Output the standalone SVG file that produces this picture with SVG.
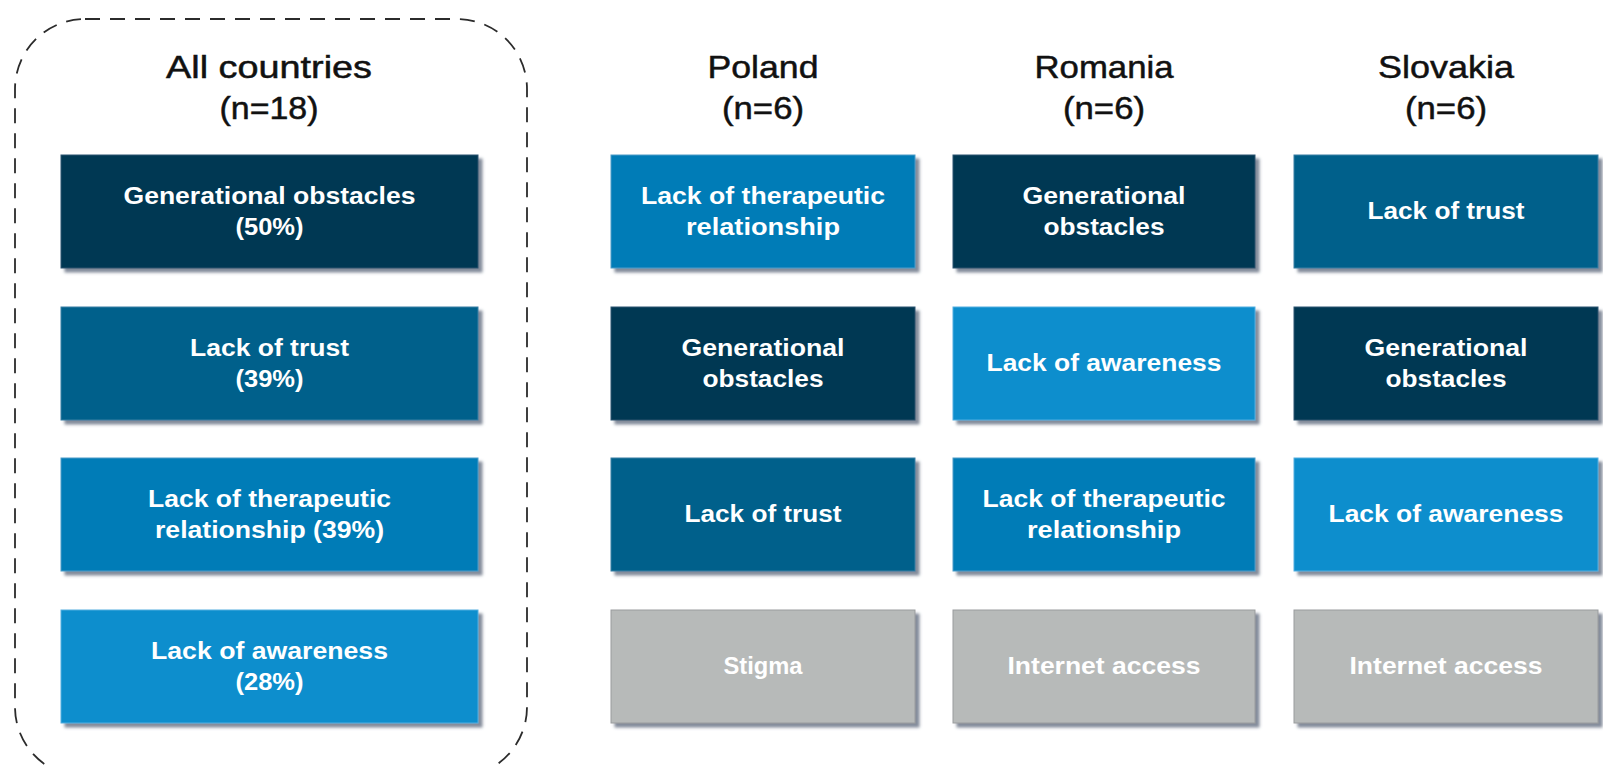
<svg xmlns="http://www.w3.org/2000/svg" width="1603" height="767" viewBox="0 0 1603 767">
  <defs>
    <filter id="shadow" x="-5%" y="-5%" width="115%" height="125%">
      <feDropShadow dx="4" dy="4" stdDeviation="1.6" flood-color="#5a6378" flood-opacity="0.75"/>
    </filter>
    <style>
      .hdr { font-family: "Liberation Sans", Arial, sans-serif; font-size: 32px; fill: #111; stroke: #111; stroke-width: 0.5; text-anchor: middle; }
      .lbl { font-family: "Liberation Sans", Arial, sans-serif; font-size: 23px; font-weight: bold; fill: #ffffff; text-anchor: middle; }
      .box { filter: url(#shadow); stroke-width: 1; }
      .c-gen { fill: #053753; stroke: #2a5570; }
      .c-trust { fill: #03608b; stroke: #3a7ea3; }
      .c-ther { fill: #067bb7; stroke: #4a9cc8; }
      .c-aware { fill: #0a8ecd; stroke: #55aee0; }
      .c-grey { fill: #b7bab9; stroke: #999c9e; }
      .frame { fill: none; stroke: #2b2b2b; stroke-width: 1.8; stroke-dasharray: 15 10; }
    </style>
  </defs>

  <rect width="1603" height="767" fill="#ffffff"/>

  <!-- dashed frame around the all-countries column -->
  <rect class="frame" x="15" y="19" width="512" height="758" rx="70" ry="70"/>

  <!-- column headers -->
  <g id="headers">
    <text class="hdr" x="269" y="78" textLength="206" lengthAdjust="spacingAndGlyphs">All countries</text>
    <text class="hdr" x="269" y="119" textLength="99" lengthAdjust="spacingAndGlyphs">(n=18)</text>
    <text class="hdr" x="763" y="78" textLength="111" lengthAdjust="spacingAndGlyphs">Poland</text>
    <text class="hdr" x="763" y="119" textLength="82" lengthAdjust="spacingAndGlyphs">(n=6)</text>
    <text class="hdr" x="1104" y="78" textLength="139" lengthAdjust="spacingAndGlyphs">Romania</text>
    <text class="hdr" x="1104" y="119" textLength="82" lengthAdjust="spacingAndGlyphs">(n=6)</text>
    <text class="hdr" x="1446" y="78" textLength="136" lengthAdjust="spacingAndGlyphs">Slovakia</text>
    <text class="hdr" x="1446" y="119" textLength="82" lengthAdjust="spacingAndGlyphs">(n=6)</text>
  </g>

  <!-- All countries -->
  <g id="all-gen">
    <rect class="box c-gen" x="61" y="155" width="417" height="113"/>
    <text class="lbl" x="269.5" y="204" textLength="292" lengthAdjust="spacingAndGlyphs">Generational obstacles</text>
    <text class="lbl" x="269.5" y="235" textLength="68" lengthAdjust="spacingAndGlyphs">(50%)</text>
  </g>
  <g id="all-trust">
    <rect class="box c-trust" x="61" y="307" width="417" height="113"/>
    <text class="lbl" x="269.5" y="356" textLength="159" lengthAdjust="spacingAndGlyphs">Lack of trust</text>
    <text class="lbl" x="269.5" y="387" textLength="68" lengthAdjust="spacingAndGlyphs">(39%)</text>
  </g>
  <g id="all-ther">
    <rect class="box c-ther" x="61" y="458" width="417" height="113"/>
    <text class="lbl" x="269.5" y="507" textLength="243" lengthAdjust="spacingAndGlyphs">Lack of therapeutic</text>
    <text class="lbl" x="269.5" y="538" textLength="229" lengthAdjust="spacingAndGlyphs">relationship (39%)</text>
  </g>
  <g id="all-aware">
    <rect class="box c-aware" x="61" y="610" width="417" height="113"/>
    <text class="lbl" x="269.5" y="659" textLength="237" lengthAdjust="spacingAndGlyphs">Lack of awareness</text>
    <text class="lbl" x="269.5" y="690" textLength="68" lengthAdjust="spacingAndGlyphs">(28%)</text>
  </g>

  <!-- Poland -->
  <g id="pl-ther">
    <rect class="box c-ther" x="611" y="155" width="304" height="113"/>
    <text class="lbl" x="763" y="204" textLength="244" lengthAdjust="spacingAndGlyphs">Lack of therapeutic</text>
    <text class="lbl" x="763" y="235" textLength="154" lengthAdjust="spacingAndGlyphs">relationship</text>
  </g>
  <g id="pl-gen">
    <rect class="box c-gen" x="611" y="307" width="304" height="113"/>
    <text class="lbl" x="763" y="356" textLength="163" lengthAdjust="spacingAndGlyphs">Generational</text>
    <text class="lbl" x="763" y="387" textLength="121" lengthAdjust="spacingAndGlyphs">obstacles</text>
  </g>
  <g id="pl-trust">
    <rect class="box c-trust" x="611" y="458" width="304" height="113"/>
    <text class="lbl" x="763" y="522" textLength="157" lengthAdjust="spacingAndGlyphs">Lack of trust</text>
  </g>
  <g id="pl-stigma">
    <rect class="box c-grey" x="611" y="610" width="304" height="113"/>
    <text class="lbl" x="763" y="674" textLength="79" lengthAdjust="spacingAndGlyphs">Stigma</text>
  </g>

  <!-- Romania -->
  <g id="ro-gen">
    <rect class="box c-gen" x="953" y="155" width="302" height="113"/>
    <text class="lbl" x="1104" y="204" textLength="163" lengthAdjust="spacingAndGlyphs">Generational</text>
    <text class="lbl" x="1104" y="235" textLength="121" lengthAdjust="spacingAndGlyphs">obstacles</text>
  </g>
  <g id="ro-aware">
    <rect class="box c-aware" x="953" y="307" width="302" height="113"/>
    <text class="lbl" x="1104" y="371" textLength="235" lengthAdjust="spacingAndGlyphs">Lack of awareness</text>
  </g>
  <g id="ro-ther">
    <rect class="box c-ther" x="953" y="458" width="302" height="113"/>
    <text class="lbl" x="1104" y="507" textLength="243" lengthAdjust="spacingAndGlyphs">Lack of therapeutic</text>
    <text class="lbl" x="1104" y="538" textLength="154" lengthAdjust="spacingAndGlyphs">relationship</text>
  </g>
  <g id="ro-internet">
    <rect class="box c-grey" x="953" y="610" width="302" height="113"/>
    <text class="lbl" x="1104" y="674" textLength="193" lengthAdjust="spacingAndGlyphs">Internet access</text>
  </g>

  <!-- Slovakia -->
  <g id="sk-trust">
    <rect class="box c-trust" x="1294" y="155" width="304" height="113"/>
    <text class="lbl" x="1446" y="219" textLength="157" lengthAdjust="spacingAndGlyphs">Lack of trust</text>
  </g>
  <g id="sk-gen">
    <rect class="box c-gen" x="1294" y="307" width="304" height="113"/>
    <text class="lbl" x="1446" y="356" textLength="163" lengthAdjust="spacingAndGlyphs">Generational</text>
    <text class="lbl" x="1446" y="387" textLength="121" lengthAdjust="spacingAndGlyphs">obstacles</text>
  </g>
  <g id="sk-aware">
    <rect class="box c-aware" x="1294" y="458" width="304" height="113"/>
    <text class="lbl" x="1446" y="522" textLength="235" lengthAdjust="spacingAndGlyphs">Lack of awareness</text>
  </g>
  <g id="sk-internet">
    <rect class="box c-grey" x="1294" y="610" width="304" height="113"/>
    <text class="lbl" x="1446" y="674" textLength="193" lengthAdjust="spacingAndGlyphs">Internet access</text>
  </g>

  <!-- no connectors in this figure -->
  <g id="connectors"/>
</svg>
